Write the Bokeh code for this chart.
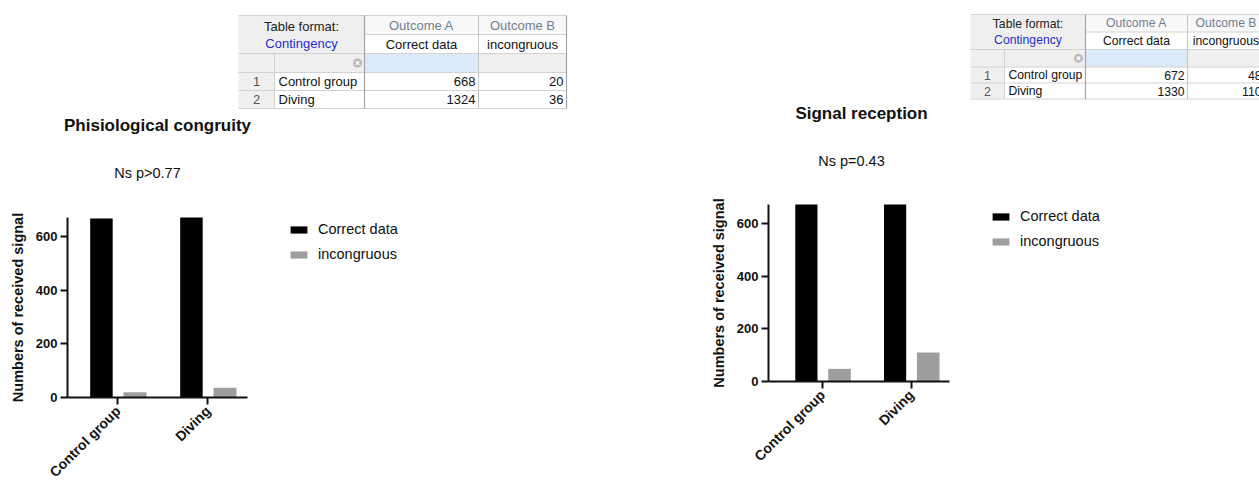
import math
from bokeh.plotting import figure
from bokeh.models import (Range1d, FixedTicker, Legend, LegendItem, LinearAxis,
                          ColumnDataSource, CustomJSTransform)
from bokeh.transform import dodge, transform
from bokeh.embed import file_html
from bokeh.resources import INLINE
from bokeh.core.properties import value

# ---------------- data ----------------
groups = ["Control group", "Diving"]
series = ["Correct data", "incongruous"]
outcome_headers = ["Outcome A", "Outcome B"]
table_format = ["Table format:", "Contingency"]
left_correct = [668, 1324]
left_incongruous = [20, 36]
right_correct = [672, 1330]
right_incongruous = [48, 110]
y_ticks = [0, 200, 400, 600]
y_max = 672
left_title = "Phisiological congruity"
left_note = "Ns p>0.77"
right_title = "Signal reception"
right_note = "Ns p=0.43"
y_label = "Numbers of received signal"

FONT = "Liberation Sans"
BLACK = "#000000"
GREY = "#9e9ea1"
INK = "#111111"

# canvas in page pixel coordinates
W, H = 1259, 480
X0, Y0 = 0, 0

p = figure(width=W, height=H, x_range=Range1d(X0, X0 + W), y_range=Range1d(Y0 + H, Y0),
           x_axis_type=None, y_axis_type=None, min_border=0,
           toolbar_location=None, output_backend="svg")
p.grid.visible = False
p.outline_line_color = None


def txt(x, y, t, size, color=INK, align="center", style="normal", baseline="middle"):
    p.text(x=x, y=y, text=t, text_font=value(FONT), text_font_size=f"{size}px",
           text_align=align, text_baseline=baseline, text_color=color, text_font_style=style)


def draw_table(xe, ye, fs, correct, incong):
    cells = [
        (xe[0], xe[2], ye[0], ye[2], "#efefef"),
        (xe[2], xe[4], ye[0], ye[1], "#f8f8f8"),
        (xe[0], xe[2], ye[2], ye[3], "#efefef"),
        (xe[2], xe[3], ye[2], ye[3], "#dce9f8"),
        (xe[3], xe[4], ye[2], ye[3], "#efefef"),
        (xe[0], xe[1], ye[3], ye[5], "#efefef"),
    ]
    p.quad(left=[c[0] for c in cells], right=[c[1] for c in cells],
           top=[c[2] for c in cells], bottom=[c[3] for c in cells],
           fill_color=[c[4] for c in cells], line_color=None)
    hx0 = [xe[0], xe[2], xe[0], xe[0], xe[0], xe[0]]
    hy = list(ye)
    p.segment(x0=hx0, x1=[xe[4]] * 6, y0=hy, y1=hy, line_color="#d2d2d2", line_width=1)
    p.segment(x0=[xe[1]], x1=[xe[1]], y0=[ye[2]], y1=[ye[5]], line_color="#d2d2d2", line_width=1)
    p.segment(x0=[xe[2], xe[4]], x1=[xe[2], xe[4]], y0=[ye[0]] * 2, y1=[ye[5]] * 2,
              line_color="#a4a4a4", line_width=1.2)
    p.segment(x0=[xe[3]], x1=[xe[3]], y0=[ye[0]], y1=[ye[5]], line_color="#c4c4c4", line_width=1)
    cx01 = (xe[0] + xe[2]) / 2
    txt([cx01], [(ye[0] + ye[1]) / 2 + 1], [table_format[0]], fs, "#222222")
    txt([cx01], [(ye[1] + ye[2]) / 2 - 1], [table_format[1]], fs, "#1f2fc8")
    ccx = [(xe[2] + xe[3]) / 2, (xe[3] + xe[4]) / 2]
    txt(ccx, [(ye[0] + ye[1]) / 2] * 2, outcome_headers, fs, "#6f7f92")
    txt(ccx, [(ye[1] + ye[2]) / 2] * 2, series, fs)
    ry = [(ye[3] + ye[4]) / 2, (ye[4] + ye[5]) / 2]
    txt([(xe[0] + xe[1]) / 2] * 2, ry, [str(i + 1) for i in range(len(groups))], fs, "#555555")
    txt([xe[1] + 4] * 2, ry, groups, fs, align="left")
    txt([xe[3] - 3] * 2, ry, [str(v) for v in correct], fs, align="right")
    txt([xe[4] - 3] * 2, ry, [str(v) for v in incong], fs, align="right")
    ix = xe[2] - 7
    iy = (ye[2] + ye[3]) / 2
    p.scatter(x=[ix], y=[iy], marker="circle", size=9, fill_color="#b9b9b9", line_color=None)
    p.scatter(x=[ix], y=[iy], marker="x", size=5, line_color="white", line_width=1.3)


clamp = CustomJSTransform(v_func=f"return xs.map(v => Math.min(v, {y_max}))")

extra_x, extra_y = {}, {}
charts = []


def add_chart(key, geo, correct, incong, title, note, title_pos, note_pos, legend_pos):
    ax_l, ax_r, ax_b, ax_t, xs0, xs1 = geo
    kx = (ax_r - ax_l) / (xs1 - xs0)
    ky = (ax_b - ax_t) / y_max
    xr = Range1d(xs0 - (ax_l - X0) / kx, xs0 + (X0 + W - ax_l) / kx)
    yr = Range1d(-(Y0 + H - ax_b) / ky, (ax_b - Y0) / ky)
    extra_x[key] = xr
    extra_y[key] = yr
    charts.append((key, geo, correct, incong, title, note, title_pos, note_pos, legend_pos))


add_chart("L", (67, 247, 397, 217, 0.44, 2.44), left_correct, left_incongruous,
          left_title, left_note, (157, 125), (147, 172), (288, 219))
add_chart("R", (768, 949, 381, 204, 0.39, 2.43), right_correct, right_incongruous,
          right_title, right_note, (861, 113), (851, 160), (990, 206))
p.extra_x_ranges = extra_x
p.extra_y_ranges = extra_y

draw_table([238, 274, 364, 478, 566], [15, 34, 53, 72, 90, 108], 13,
           left_correct, left_incongruous)
draw_table([970, 1004, 1085, 1187, 1264], [14, 31.5, 49, 66.5, 82.5, 98.5], 12.2,
           right_correct, right_incongruous)

for key, geo, correct, incong, title, note, title_pos, note_pos, legend_pos in charts:
    ax_l, ax_r, ax_b, ax_t, xs0, xs1 = geo
    xs = [i + 1 for i in range(len(groups))]
    src = ColumnDataSource(dict(x=xs, correct=correct, incong=incong))
    r1 = p.vbar(x=dodge("x", -0.183), top=transform("correct", clamp), width=0.25, source=src,
                fill_color=BLACK, line_color=None, x_range_name=key, y_range_name=key)
    r2 = p.vbar(x=dodge("x", 0.19), top=transform("incong", clamp), width=0.255, source=src,
                fill_color=GREY, line_color=None, x_range_name=key, y_range_name=key)

    yax = LinearAxis(x_range_name=key, y_range_name=key, fixed_location=xs0,
                     bounds=(0, y_max), ticker=FixedTicker(ticks=y_ticks))
    xax = LinearAxis(x_range_name=key, y_range_name=key, fixed_location=0,
                     bounds=(xs0, xs1), ticker=FixedTicker(ticks=xs))
    for ax in (xax, yax):
        ax.axis_line_width = 2
        ax.axis_line_color = INK
        ax.major_tick_line_width = 2
        ax.major_tick_line_color = INK
        ax.major_tick_out = 7
        ax.major_tick_in = 0
        ax.minor_tick_out = 0
        ax.minor_tick_in = 0
        ax.major_label_text_font = FONT
        ax.major_label_text_font_style = "bold"
        ax.major_label_text_color = INK
    xax.major_label_overrides = {x: g for x, g in zip(xs, groups)}
    xax.major_label_orientation = math.pi / 4
    xax.major_label_text_font_size = "14px"
    xax.major_label_standoff = 4
    yax.major_label_text_font_size = "13px"
    yax.major_label_standoff = 3
    yax.axis_label = y_label
    yax.axis_label_text_font = FONT
    yax.axis_label_text_font_size = "14.5px"
    yax.axis_label_text_font_style = "bold"
    yax.axis_label_text_color = INK
    yax.axis_label_standoff = 7
    p.add_layout(yax, "left")
    p.add_layout(xax, "below")

    txt([title_pos[0]], [title_pos[1]], [title], 17, style="bold")
    txt([note_pos[0]], [note_pos[1]], [note], 14.5)

    lx, ly_top = legend_pos
    legend = Legend(items=[LegendItem(label=series[0], renderers=[r1]),
                           LegendItem(label=series[1], renderers=[r2])],
                    location=(lx - X0, (Y0 + H) - (ly_top + 45)), orientation="vertical")
    legend.padding = 0
    legend.margin = 0
    legend.spacing = 5
    legend.border_line_color = None
    legend.background_fill_alpha = 0
    legend.glyph_width = 21
    legend.glyph_height = 9
    legend.label_height = 20
    legend.label_standoff = 9
    legend.label_text_font = FONT
    legend.label_text_font_size = "14.5px"
    legend.label_text_color = INK
    p.add_layout(legend)

open("out.html", "w").write(file_html(p, INLINE))
